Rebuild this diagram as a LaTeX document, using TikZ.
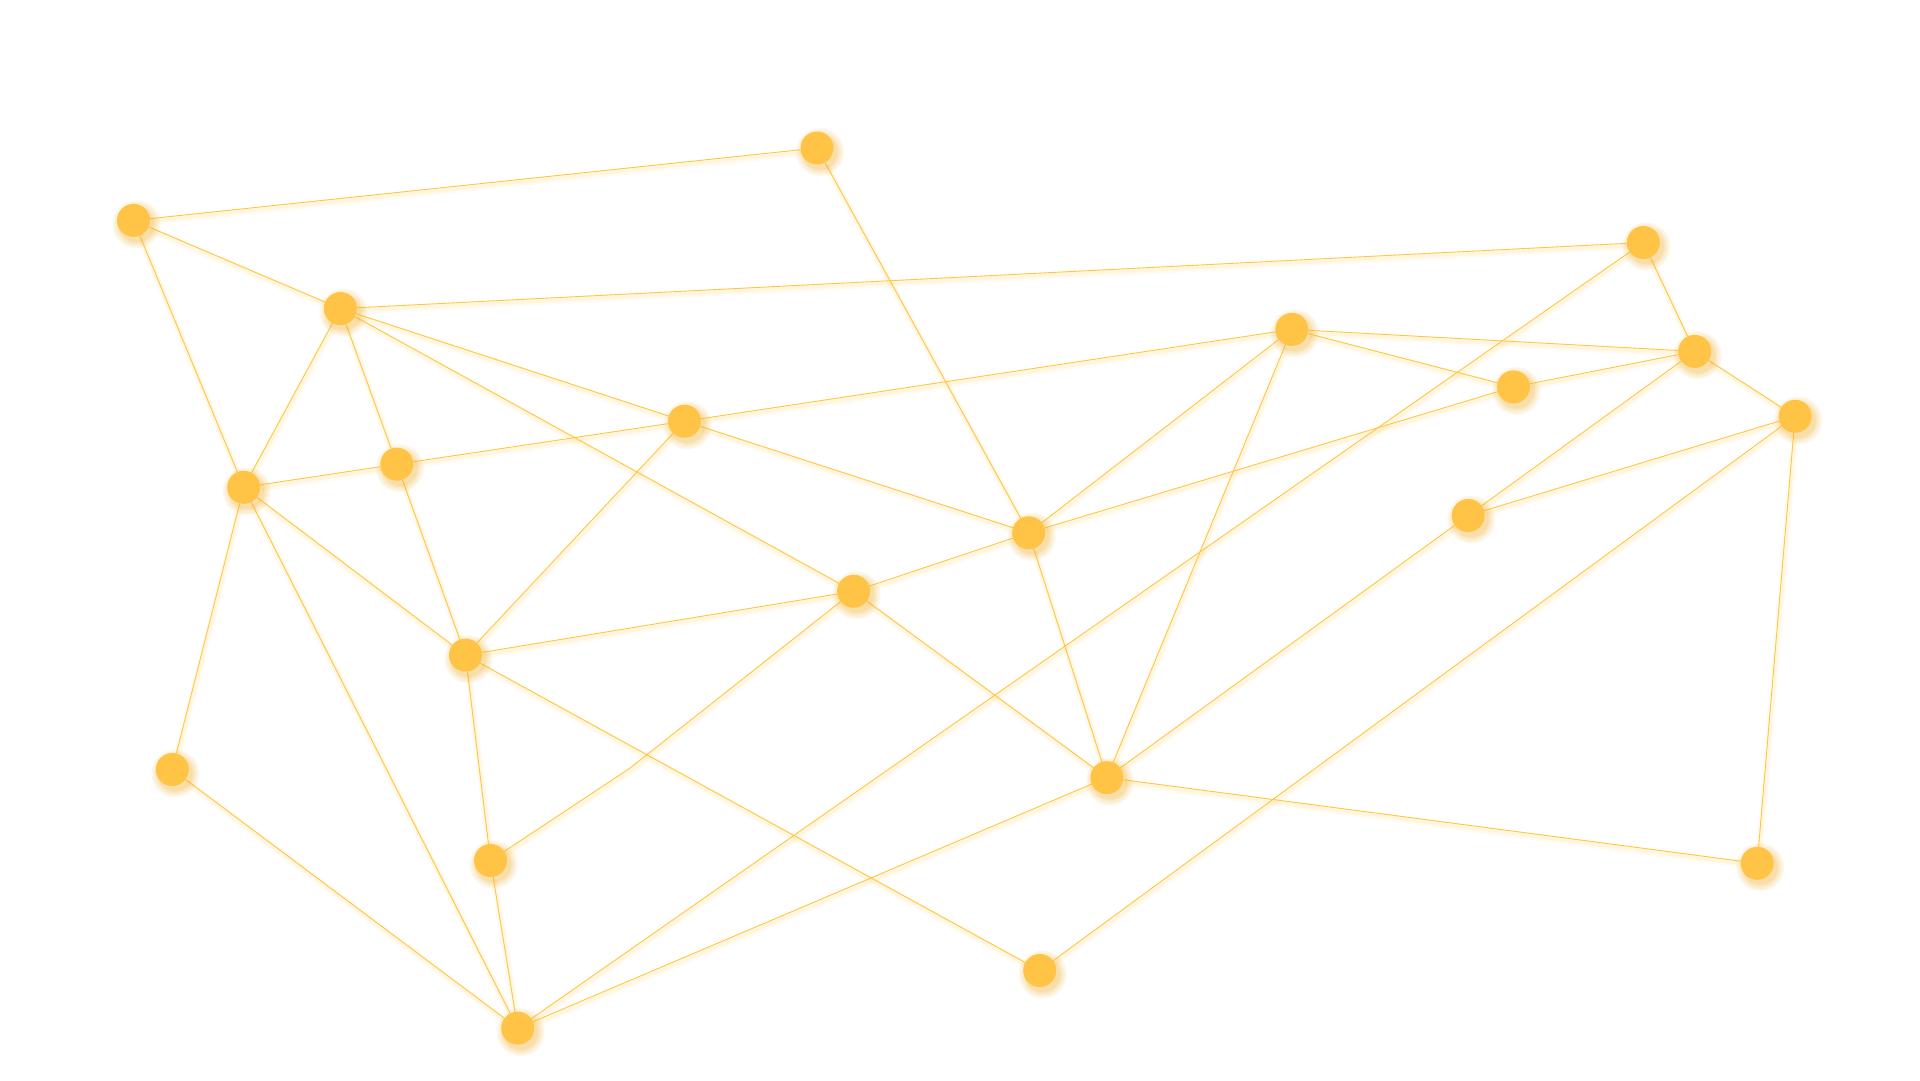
\documentclass[tikz,border=0pt]{standalone}
\definecolor{dotc}{HTML}{FFC445}
\definecolor{linec}{HTML}{FFC640}
\definecolor{glowc}{HTML}{FFD45E}
\definecolor{haloc}{HTML}{F2B536}
\pgfdeclarelayer{bgl}\pgfdeclarelayer{eglow}\pgfdeclarelayer{edgel}\pgfdeclarelayer{halol}
\pgfsetlayers{bgl,eglow,edgel,halol,main}
\begin{document}
\begin{tikzpicture}[x=1pt,y=-1pt,
  dot/.style={circle,fill=dotc,draw=none,inner sep=0pt,minimum size=33pt},
  link/.style={draw=linec,line width=0.9pt},
  glowA/.style={draw=glowc,line width=7pt,opacity=0.08,transform canvas={xshift=1pt,yshift=-3pt}},
  glowB/.style={draw=glowc,line width=3.5pt,opacity=0.12,transform canvas={xshift=1pt,yshift=-2.5pt}},
  halo/.style={fill=haloc,opacity=0.10}]
\begin{pgfonlayer}{bgl}
\fill[white] (0,0) rectangle (1920,1080);
\end{pgfonlayer}
\useasboundingbox (0,0) rectangle (1920,1080);
% nodes
\foreach \n/\x/\y in {A/817/148, B/133.5/220.4, C/340.4/308.6, D/1643.3/242.5,
  E/1291.8/329.4, F/1694.7/351.4, G/1513.5/386.9, H/1795.1/416.3,
  I/684.5/421.2, J/396.8/464.2, K/243.7/487.3, L/1468.2/515.5,
  M/1028.7/532.8, N/853.6/591.3, O/465.5/655.1, P/172.3/769.5,
  Q/1106.9/777.6, R/490.5/860.5, S/1757.2/863.3, T/1039.7/970.5,
  U/517.7/1028.2}{
  \node[dot] (\n) at (\x,\y) {};
  \begin{pgfonlayer}{halol}
  \foreach \r in {24,22,20,18.5,17.5}{\fill[halo] (\x+3,\y+4) circle (\r);}
  \end{pgfonlayer}
}
\coordinate (kNR) at (629.3,768.6);
\def\edgelist{B/A,A/M,B/C,B/K,C/D,C/I,C/J,C/K,C/N,D/F,D/U,E/F,E/G,E/M,E/Q,E/I,
  G/F,G/M,F/H,F/L,H/L,H/T,H/S,K/J,J/I,I/M,I/O,J/O,K/O,K/P,K/U,M/N,M/Q,N/O,N/Q,
  O/R,O/T,P/U,Q/L,Q/S,Q/U,R/U}
\begin{pgfonlayer}{eglow}
\foreach \a/\b in \edgelist {\draw[glowA] (\a) -- (\b); \draw[glowB] (\a) -- (\b);}
\draw[glowA] (N) -- (kNR) -- (R);
\draw[glowB] (N) -- (kNR) -- (R);
\end{pgfonlayer}
\begin{pgfonlayer}{edgel}
\foreach \a/\b in \edgelist {\draw[link] (\a) -- (\b);}
\draw[link] (N) -- (kNR) -- (R);
\end{pgfonlayer}
\end{tikzpicture}
\end{document}
